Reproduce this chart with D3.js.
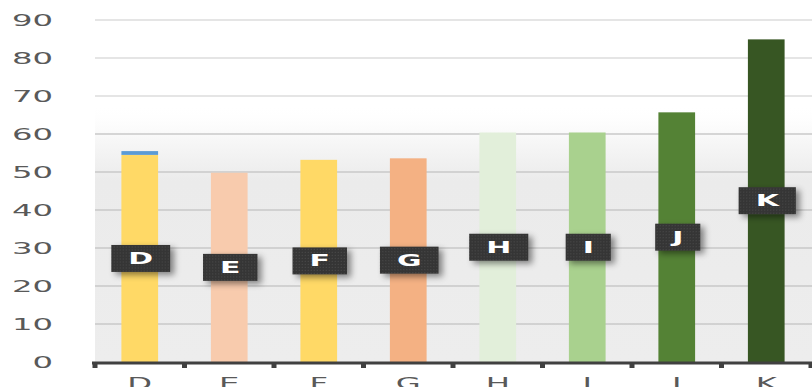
<!DOCTYPE html>
<html>
<head>
<meta charset="utf-8">
<script src="https://cdn.jsdelivr.net/npm/d3@7"></script>
<style>
  body { margin: 0; background: #fff; }
  svg { display: block; }
</style>
</head>
<body>
<div id="chart"></div>
<script>
// data
var categories = ["D", "E", "F", "G", "H", "I", "J", "K"];
var mainValues = [54.5, 49.8, 53.2, 53.6, 60.4, 60.4, 65.7, 84.9];
var topValues  = [1.0, 0, 0, 0, 0, 0, 0, 0];
var barColors  = ["#ffd966", "#f8cbad", "#ffd966", "#f4b183", "#e2efda", "#a9d18e", "#548235", "#375623"];
var topColor   = "#5b9bd5";
var yTicks     = [0, 10, 20, 30, 40, 50, 60, 70, 80, 90];

BarChart = {
    w : 812,
    h : 387,
    left : 95,
    right : 811,
    top : 20,
    bottom : 362,
    stretch : 2.15, // the picture is pulled wide, text too
    svg : null,

    init : function(divName) {
        d3.selectAll(divName + " svg").remove(); // clean
        this.svg = d3.select(divName)
            .append("svg")
            .attr("width", this.w)
            .attr("height", this.h);
        this.x = d3.scaleBand()
            .domain(categories)
            .range([this.left, this.right])
            .paddingInner(0.59)
            .paddingOuter(0.295);
        this.y = d3.scaleLinear()
            .domain([0, 90])
            .range([this.bottom, this.top]);
        this.defs();
        this.drawBack();
        this.drawGrid();
        this.drawBars();
        this.drawAxis();
        this.drawLabels();
        return this;
    },

    defs : function() {
        var defs = this.svg.append("defs");

        // soft grey glow behind the lower part of the plot
        var g = defs.append("linearGradient")
            .attr("id", "back")
            .attr("x1", 0).attr("y1", 0).attr("x2", 0).attr("y2", 1);
        g.append("stop").attr("offset", "0%").attr("stop-color", "#ffffff").attr("stop-opacity", 0);
        g.append("stop").attr("offset", "14%").attr("stop-color", "#f7f7f7").attr("stop-opacity", 1);
        g.append("stop").attr("offset", "30%").attr("stop-color", "#ebebeb");
        g.append("stop").attr("offset", "100%").attr("stop-color", "#ededed");

        // dotted texture of the label boxes
        var p = defs.append("pattern")
            .attr("id", "dots")
            .attr("width", 3).attr("height", 3)
            .attr("patternUnits", "userSpaceOnUse");
        p.append("rect").attr("width", 3).attr("height", 3).attr("fill", "#363636");
        p.append("rect").attr("width", 1).attr("height", 1).attr("fill", "#4a4a4a");

        var f = defs.append("filter")
            .attr("id", "shadow")
            .attr("x", "-40%").attr("y", "-40%")
            .attr("width", "180%").attr("height", "180%");
        f.append("feDropShadow")
            .attr("dx", 4).attr("dy", 3)
            .attr("stdDeviation", 3)
            .attr("flood-color", "#000")
            .attr("flood-opacity", 0.45);
    },

    drawBack : function() {
        this.svg.append("rect")
            .attr("x", this.left)
            .attr("y", this.y(68))
            .attr("width", this.w - this.left)
            .attr("height", this.bottom - this.y(68))
            .attr("fill", "url(#back)");
    },

    drawGrid : function() {
        var self = this;
        var grid = this.svg.append("g").attr("class", "grid");
        grid.selectAll("line")
            .data(yTicks.filter(function(d) { return d > 0; }))
            .enter().append("line")
            .attr("x1", self.left)
            .attr("x2", self.w)
            .attr("y1", function(d) { return self.y(d); })
            .attr("y2", function(d) { return self.y(d); })
            .attr("stroke", function(d) { return d <= 60 ? "#c9c9c9" : "#dcdcdc"; })
            .attr("stroke-width", 1.6);

        // y tick labels, stretched wide like the picture
        var lab = this.svg.append("g").attr("class", "ylabels");
        lab.selectAll("text")
            .data(yTicks)
            .enter().append("text")
            .attr("transform", function(d) {
                return "translate(53," + (self.y(d) + 5.5) + ") scale(" + self.stretch + ",1)";
            })
            .attr("text-anchor", "end")
            .style("font-family", "DejaVu Sans")
            .style("font-size", "15px")
            .style("fill", "#595959")
            .text(function(d) { return d; });
    },

    drawBars : function() {
        var self = this;
        var bars = this.svg.append("g").attr("class", "bars");
        bars.selectAll("rect.main")
            .data(categories)
            .enter().append("rect")
            .attr("class", "main")
            .attr("x", function(d) { return self.x(d); })
            .attr("width", self.x.bandwidth())
            .attr("y", function(d, i) { return self.y(mainValues[i]); })
            .attr("height", function(d, i) { return self.bottom - self.y(mainValues[i]); })
            .attr("fill", function(d, i) { return barColors[i]; });

        // small blue cap stacked on top
        bars.selectAll("rect.top")
            .data(categories)
            .enter().append("rect")
            .attr("class", "top")
            .attr("x", function(d) { return self.x(d); })
            .attr("width", self.x.bandwidth())
            .attr("y", function(d, i) { return self.y(mainValues[i] + topValues[i]); })
            .attr("height", function(d, i) { return self.y(mainValues[i]) - self.y(mainValues[i] + topValues[i]); })
            .attr("fill", topColor);
    },

    drawAxis : function() {
        var self = this;
        var step = this.x.step();
        var axis = this.svg.append("g").attr("class", "xaxis");

        axis.append("line")
            .attr("x1", 92).attr("x2", self.w)
            .attr("y1", self.bottom + 1).attr("y2", self.bottom + 1)
            .attr("stroke", "#404040")
            .attr("stroke-width", 3);

        // ticks sit between the bands
        var edges = categories.map(function(d) { return self.x(d) - (step - self.x.bandwidth()) / 2; });
        edges.push(edges[edges.length - 1] + step);
        axis.selectAll("rect.tick")
            .data(edges)
            .enter().append("rect")
            .attr("class", "tick")
            .attr("x", function(d) { return d - 2.5; })
            .attr("y", self.bottom + 1)
            .attr("width", 5)
            .attr("height", 5)
            .attr("fill", "#404040");

        axis.selectAll("text")
            .data(categories)
            .enter().append("text")
            .attr("transform", function(d) {
                return "translate(" + (self.x(d) + self.x.bandwidth() / 2) + ",389) scale(" + self.stretch + ",1)";
            })
            .attr("text-anchor", "middle")
            .style("font-family", "DejaVu Sans")
            .style("font-size", "15px")
            .style("fill", "#595959")
            .text(function(d) { return d; });
    },

    drawLabels : function() {
        var self = this;
        var labels = this.svg.append("g").attr("class", "labels");
        var s = 2.0;

        categories.forEach(function(d, i) {
            var cx = self.x(d) + self.x.bandwidth() / 2 + 1;
            var cy = self.y(mainValues[i] / 2);
            var g = labels.append("g").attr("transform", "translate(" + cx + "," + cy + ")");
            var box = g.append("rect");
            var t = g.append("text")
                .attr("transform", "translate(0,5.5) scale(" + s + ",1)")
                .attr("text-anchor", "middle")
                .style("font-family", "DejaVu Sans")
                .style("font-weight", "bold")
                .style("font-size", "15px")
                .style("fill", "#ffffff")
                .text(d);
            var tw = t.node().getComputedTextLength() * s + 34;
            box.attr("x", -tw / 2)
                .attr("y", -13.5)
                .attr("width", tw)
                .attr("height", 27)
                .attr("fill", "url(#dots)")
                .attr("filter", "url(#shadow)");
        });
    }
};

BarChart.init("#chart");
</script>
</body>
</html>
